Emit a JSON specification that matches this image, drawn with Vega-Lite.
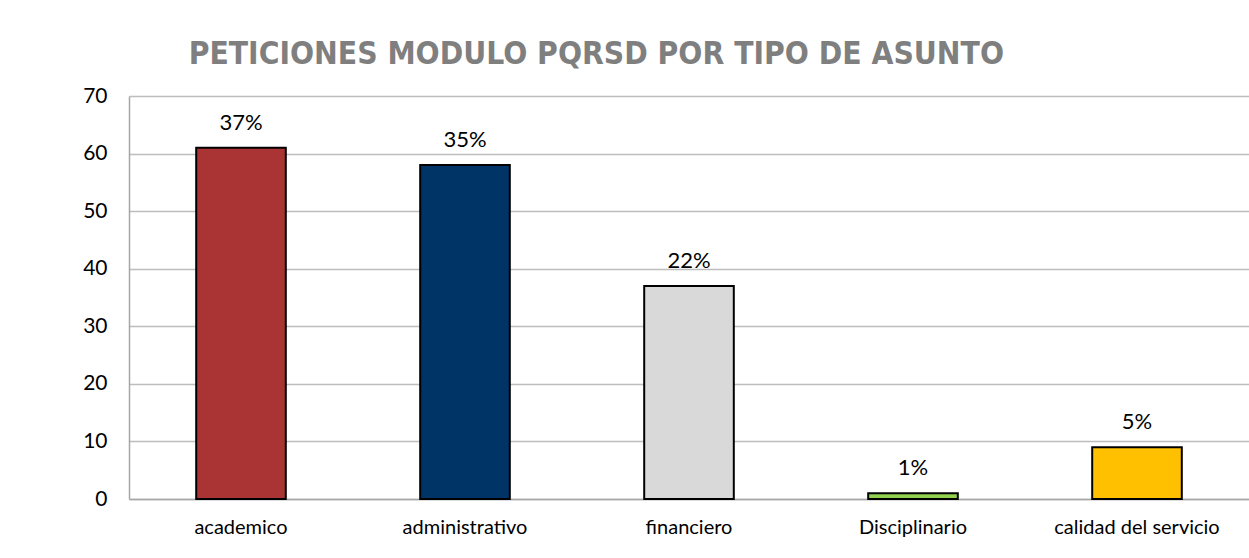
{
  "$schema": "https://vega.github.io/schema/vega-lite/v6.json",
  "autosize": {"type": "none"},
  "width": 1120,
  "height": 403,
  "padding": {"left": 129, "top": 96, "right": 0, "bottom": 59},
  "background": "white",
  "title": {
    "text": "PETICIONES MODULO PQRSD POR TIPO DE  ASUNTO",
    "anchor": "start",
    "dx": 106,
    "offset": 34,
    "dy": 44,
    "baseline": "alphabetic",
    "font": "DejaVu Sans Condensed",
    "fontSize": 31.5,
    "fontWeight": "bold",
    "color": "#7F7F7F"
  },
  "data": {
    "values": [
      {"asunto": "academico", "peticiones": 61, "pct": "37%"},
      {"asunto": "administrativo", "peticiones": 58, "pct": "35%"},
      {"asunto": "financiero", "peticiones": 37, "pct": "22%"},
      {"asunto": "Disciplinario", "peticiones": 1, "pct": "1%"},
      {"asunto": "calidad del servicio", "peticiones": 9, "pct": "5%"}
    ]
  },
  "encoding": {
    "x": {
      "field": "asunto",
      "type": "nominal",
      "sort": null,
      "scale": {"paddingInner": 0.6, "paddingOuter": 0.3},
      "axis": {
        "title": null,
        "labelAngle": 0,
        "ticks": false,
        "domainColor": "#A6A6A6",
        "domainWidth": 1.5,
        "labelFont": "Lato",
        "labelFontSize": 20,
        "labelColor": "#000000",
        "labelBaseline": "alphabetic",
        "labelPadding": 34
      }
    },
    "y": {
      "field": "peticiones",
      "type": "quantitative",
      "scale": {"domain": [0, 70]},
      "axis": {
        "title": null,
        "values": [0, 10, 20, 30, 40, 50, 60, 70],
        "ticks": false,
        "grid": true,
        "gridColor": "#BDBDBD",
        "gridWidth": 1.5,
        "domainColor": "#A6A6A6",
        "domainWidth": 1.5,
        "labelFont": "Lato",
        "labelFontSize": 21,
        "labelColor": "#000000",
        "labelPadding": 22
      }
    }
  },
  "layer": [
    {
      "mark": {"type": "bar", "stroke": "#000000", "strokeWidth": 2},
      "encoding": {
        "color": {
          "field": "asunto",
          "type": "nominal",
          "sort": null,
          "scale": {
            "domain": ["academico", "administrativo", "financiero", "Disciplinario", "calidad del servicio"],
            "range": ["#AA3333", "#003366", "#D9D9D9", "#92D050", "#FFC000"]
          },
          "legend": null
        }
      }
    },
    {
      "mark": {"type": "text", "baseline": "alphabetic", "dy": -18, "font": "Lato", "fontSize": 22, "color": "#000000"},
      "encoding": {"text": {"field": "pct"}}
    }
  ],
  "config": {"view": {"stroke": null}}
}
